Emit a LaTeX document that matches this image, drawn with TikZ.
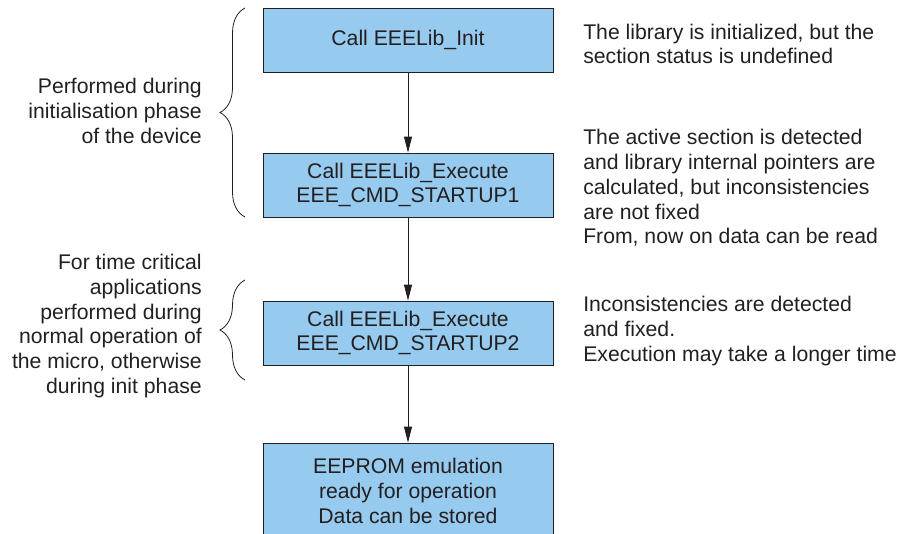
\documentclass[tikz,border=0pt]{standalone}
\usepackage{fontspec}
\setmainfont{Liberation Sans}
\usetikzlibrary{arrows.meta,decorations.pathreplacing}
\definecolor{boxblue}{RGB}{150,202,238}
\definecolor{inkgray}{RGB}{35,31,32}
\def\boxw{217.5pt}
\def\boxh{48pt}

\begin{document}
\begin{tikzpicture}[x=0.75pt,y=-0.75pt,
  every node/.style={font=\fontsize{15.9}{18.6}\selectfont,text=inkgray},
  stage/.style={draw=inkgray,line width=0.6pt,fill=boxblue,minimum width=\boxw,minimum height=\boxh,align=center,inner sep=0pt},
  note/.style={inner sep=0pt},
  flow/.style={draw=inkgray,line width=0.6pt,-{Triangle[length=12pt,width=6pt]}},
  curly/.style={draw=inkgray,line width=0.6pt,decorate,decoration={brace,amplitude=18.75pt}}]

  \clip (0,0) rectangle (900,533);

  % Boxes
  \node[stage] (init) at (408,40) {Call EEELib\_Init};
  \node[stage] (start1) at (408,185) {Call EEELib\_Execute\\EEE\_CMD\_STARTUP1};
  \node[stage] (start2) at (408,333) {Call EEELib\_Execute\\EEE\_CMD\_STARTUP2};
  \node[stage,minimum height=72pt] (ready) at (408,491) {EEPROM emulation\\ready for operation\\Data can be stored};

  \draw[flow] (init) -- (start1);
  \draw[flow] (start1) -- (start2);
  \draw[flow] (start2) -- (ready);

  % Left side
  \draw[curly] (245,217) -- (245,8);
  \draw[curly] (245,380) -- (245,280);
  \node[note,anchor=east,align=right] (initphase) at (202,111) {Performed during\\initialisation phase\\of the device};
  \node[note,anchor=east,align=right] (normalop) at (202,326) {For time critical\\applications\\performed during\\normal operation of\\the micro, otherwise\\during init phase};

  % Right side
  \node[note,anchor=west,align=left] (noteinit) at (583,44) {The library is initialized, but the\\section status is undefined};
  \node[note,anchor=west,align=left] (notestart1) at (583,188) {The active section is detected\\and library internal pointers are\\calculated, but inconsistencies\\are not fixed\\From, now on data can be read};
  \node[note,anchor=west,align=left] (notestart2) at (583,331) {Inconsistencies are detected\\and fixed.\\Execution may take a longer time};

\end{tikzpicture}
\end{document}
